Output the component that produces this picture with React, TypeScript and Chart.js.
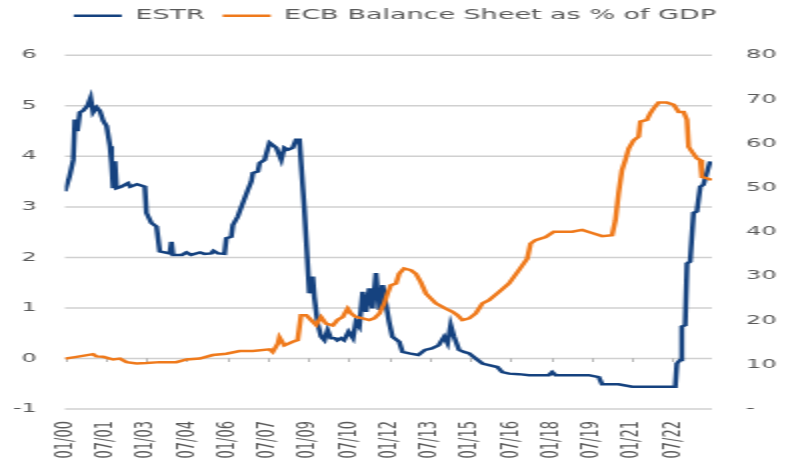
import React, { useEffect, useRef } from 'react';
import { Chart, registerables } from 'chart.js';

Chart.register(...registerables);

// month index: 0 = Jan 2000
const tickMonths = [0, 18, 36, 54, 72, 90, 108, 126, 144, 162, 180, 198, 216, 234, 252, 270];
const tickLabels = ['01/00', '07/01', '01/03', '07/04', '01/06', '07/07', '01/09', '07/10', '01/12', '07/13', '01/15', '07/16', '01/18', '07/19', '01/21', '07/22'];
const rightTickValues = [0, 10, 20, 30, 40, 50, 60, 70, 80];
const rightTickLabels = ['-', '10', '20', '30', '40', '50', '60', '70', '80'];

const estrMonths = [0, 2, 3.7, 4.4, 5.5, 6.6, 8, 10, 11.4, 12.5, 14.1, 15.5, 17, 18.5, 20, 20.7, 21.4, 22.2, 22.9, 25, 28, 29, 32, 35.5, 36.2, 38.4, 40.7, 42.1, 46.6, 47.3, 48, 52, 54, 56, 60, 62, 65, 66, 68, 70.9, 71.7, 73.9, 74.6, 76.8, 77.6, 79, 81.3, 82.8, 83.5, 85.7, 86.5, 88.7, 90.9, 93.9, 96.1, 97.5, 99, 101.2, 102.7, 104.2, 106.4, 108.6, 110.1, 110.8, 112.3, 113.8, 115.3, 116.7, 118.2, 120, 121, 122.6, 124, 126, 128, 129.3, 130.8, 132.3, 133.8, 135.2, 136.7, 138.2, 139.7, 141.2, 142.6, 144, 145.5, 148.5, 150, 153, 157, 160, 163, 166, 168.5, 170, 171.4, 172.9, 175.1, 177.3, 179.6, 182.5, 185.5, 188.4, 192.1, 194.3, 197.3, 201.7, 206.2, 215, 216.5, 218, 232.8, 237.2, 238.7, 246, 252, 271.2, 271.9, 273.4, 274.1, 275.6, 276.4, 277.8, 279.3, 280.8, 282.3, 283.7, 285.2, 286.7];
const estrValues = [3.31, 3.6, 3.93, 4.73, 4.5, 4.87, 4.9, 5.0, 5.16, 4.87, 4.97, 4.9, 4.7, 4.6, 4.2, 3.87, 3.37, 3.9, 3.37, 3.4, 3.47, 3.4, 3.45, 3.4, 2.88, 2.68, 2.61, 2.12, 2.08, 2.31, 2.05, 2.05, 2.1, 2.05, 2.1, 2.07, 2.08, 2.13, 2.08, 2.07, 2.38, 2.41, 2.64, 2.81, 2.91, 3.07, 3.34, 3.5, 3.67, 3.7, 3.87, 3.93, 4.27, 4.17, 3.93, 4.17, 4.13, 4.17, 4.33, 4.33, 2.94, 1.29, 1.62, 1.22, 0.69, 0.43, 0.36, 0.56, 0.4, 0.4, 0.36, 0.4, 0.36, 0.53, 0.4, 0.73, 0.63, 1.32, 0.92, 1.39, 0.99, 1.69, 0.96, 1.45, 1.09, 0.73, 0.43, 0.33, 0.13, 0.1, 0.07, 0.17, 0.2, 0.26, 0.43, 0.3, 0.66, 0.43, 0.17, 0.13, 0.1, 0.0, -0.1, -0.13, -0.17, -0.27, -0.3, -0.31, -0.33, -0.33, -0.27, -0.33, -0.33, -0.37, -0.51, -0.51, -0.56, -0.56, -0.1, -0.03, 0.63, 0.66, 1.88, 1.92, 2.88, 2.91, 3.4, 3.44, 3.67, 3.9];

const ecbMonths = [0, 5.2, 12.5, 14, 17, 21.4, 24.4, 27.4, 31.8, 36.2, 42.1, 49.5, 54, 59.9, 65.7, 71.7, 77.6, 83.5, 90.9, 92.3, 94.6, 95.3, 97.5, 101.2, 103.4, 104.9, 107.2, 109.4, 111.6, 113.8, 116, 119, 121.2, 123.4, 125.6, 127.1, 129.3, 132.3, 135.2, 137.4, 139.7, 141.9, 143.3, 144.8, 147.1, 148.5, 150.7, 153.7, 155.9, 158.1, 160.4, 162.6, 164.8, 169.2, 172.2, 174.4, 176.6, 179.6, 182.5, 185.5, 188.4, 192.9, 197.3, 201.7, 205.4, 206.9, 209.1, 213.6, 217.2, 225.4, 229.8, 234.2, 238.7, 243.1, 244.6, 246, 247.5, 249, 250.5, 252.7, 254.9, 255.7, 258.6, 260.1, 261.6, 263.8, 267.5, 270.5, 272.7, 274.9, 276.4, 277.1, 278.6, 280.8, 282.3, 283, 285.2, 287.4];
const ecbValues = [11.4, 11.8, 12.4, 11.9, 11.8, 11.2, 11.4, 10.6, 10.3, 10.4, 10.6, 10.6, 11.2, 11.4, 12.2, 12.5, 13.1, 13.1, 13.5, 12.9, 14.8, 16.2, 14.4, 15.2, 15.6, 21.2, 21.2, 20.1, 19.0, 20.8, 19.3, 18.9, 20.2, 20.8, 22.7, 21.6, 20.8, 20.5, 20.1, 20.5, 21.6, 23.9, 26.1, 28, 28.4, 30.6, 31.8, 31.4, 30.6, 28.7, 26.1, 25, 23.9, 22.7, 22.0, 21.2, 20.1, 20.5, 21.6, 23.9, 24.6, 26.5, 28.4, 31.4, 34.0, 37.4, 38.2, 38.9, 40.1, 40.1, 40.5, 39.8, 39.1, 39.3, 42.7, 48.8, 54.0, 56.3, 58.9, 60.8, 61.6, 65.0, 65.4, 66.9, 68.0, 69.3, 69.3, 68.8, 67.2, 67.2, 65.4, 59.3, 58.2, 56.7, 56.3, 52.5, 52.2, 51.8];

const BLUE = '#15427f';
const ORANGE = '#ef7a1c';
const TEXT = '#595959';
const GRID = '#d0d0d0';
const TICK = '#b8b8b8';
const FAMILY = "'DejaVu Sans', sans-serif";

// horizontal gridlines from the left scale's ticks, and small category tick marks at y = 0
const gridPlugin = {
  id: 'scaleGrid',
  beforeDatasetsDraw(chart: any) {
    try {
      const ys = chart.scales.y;
      const xs = chart.scales.x;
      const area = chart.chartArea;
      if (!ys || !xs || !area) return;
      const ctx = chart.ctx;
      ctx.save();
      ctx.strokeStyle = GRID;
      ctx.lineWidth = 1.5;
      ys.ticks.forEach((t: any) => {
        const py = ys.getPixelForValue(t.value);
        ctx.beginPath();
        ctx.moveTo(area.left, py);
        ctx.lineTo(area.right, py);
        ctx.stroke();
      });
      const y0 = Math.round(ys.getPixelForValue(0));
      ctx.strokeStyle = TICK;
      ctx.lineWidth = 1;
      tickMonths.forEach((m) => {
        const px = Math.round(xs.getPixelForValue(m)) + 0.5;
        ctx.beginPath();
        ctx.moveTo(px, y0);
        ctx.lineTo(px, y0 + 4);
        ctx.stroke();
      });
      ctx.restore();
    } catch (e) {
      // ignore
    }
  },
};

export default function App() {
  const ref = useRef<HTMLCanvasElement>(null);

  useEffect(() => {
    const canvas = ref.current;
    if (!canvas) return;
    const setTicks = (s: any) => {
      s.ticks = tickMonths.map((v) => ({ value: v }));
    };
    const chart = new Chart(canvas, {
      type: 'line',
      data: {
        datasets: [
          {
            label: 'ESTR',
            data: estrMonths.map((m, i) => ({ x: m, y: estrValues[i] })),
            borderColor: BLUE,
            backgroundColor: BLUE,
            borderWidth: 2.5,
            pointRadius: 0,
            tension: 0,
            yAxisID: 'y',
            order: 1,
          },
          {
            label: 'ECB Balance Sheet as % of GDP',
            data: ecbMonths.map((m, i) => ({ x: m, y: ecbValues[i] })),
            borderColor: ORANGE,
            backgroundColor: ORANGE,
            borderWidth: 2.5,
            pointRadius: 0,
            tension: 0,
            yAxisID: 'y1',
            order: 0,
          },
        ],
      },
      plugins: [gridPlugin],
      options: {
        responsive: false,
        animation: false,
        devicePixelRatio: 1,
        layout: { padding: 0 },
        plugins: {
          legend: {
            position: 'top',
            weight: 1000,
            labels: {
              usePointStyle: true,
              pointStyle: 'line',
              pointStyleWidth: 24,
              boxHeight: 13,
              color: TEXT,
              padding: 9,
              font: { family: FAMILY, size: 13.5 },
              sort: (a: any, b: any) => a.datasetIndex - b.datasetIndex,
            },
          },
          // empty spacer between legend and plot area
          subtitle: {
            display: true,
            text: '',
            position: 'top',
            weight: 500,
            font: { size: 1, lineHeight: 1 },
            padding: { top: 0, bottom: 21.8 },
          },
          tooltip: { enabled: false },
        },
        scales: {
          x: {
            type: 'linear',
            min: 0,
            max: 287.5,
            afterBuildTicks: setTicks,
            afterFit: (s: any) => {
              s.height = 55;
            },
            grid: { display: false },
            border: { display: false },
            ticks: {
              autoSkip: false,
              minRotation: 90,
              maxRotation: 90,
              padding: 4,
              color: TEXT,
              font: { family: FAMILY, size: 13 },
              callback: (v: any) => {
                const i = tickMonths.indexOf(Number(v));
                return i >= 0 ? tickLabels[i] : '';
              },
            },
          },
          y: {
            position: 'left',
            min: -1,
            max: 6,
            afterFit: (s: any) => {
              s.width = 32.5;
            },
            ticks: { stepSize: 1, padding: 14, color: TEXT, font: { family: FAMILY, size: 12 } },
            grid: { display: false, drawTicks: false },
            border: { display: false },
          },
          y1: {
            position: 'right',
            min: 0,
            max: 80,
            afterFit: (s: any) => {
              s.width = 39;
            },
            ticks: {
              stepSize: 10,
              padding: 17,
              color: TEXT,
              font: { family: FAMILY, size: 12 },
              callback: (v: any) => {
                const i = rightTickValues.indexOf(Number(v));
                return i >= 0 ? rightTickLabels[i] : '';
              },
            },
            grid: { display: false, drawOnChartArea: false, drawTicks: false },
            border: { display: false },
          },
        },
      } as any,
    });
    return () => chart.destroy();
  }, []);

  return (
    <div style={{ position: 'fixed', left: 0, top: 0, width: 790, height: 464, background: '#fff' }}>
      <canvas
        ref={ref}
        width={395}
        height={464}
        style={{ width: '790px', height: '464px', display: 'block' }}
      />
    </div>
  );
}
